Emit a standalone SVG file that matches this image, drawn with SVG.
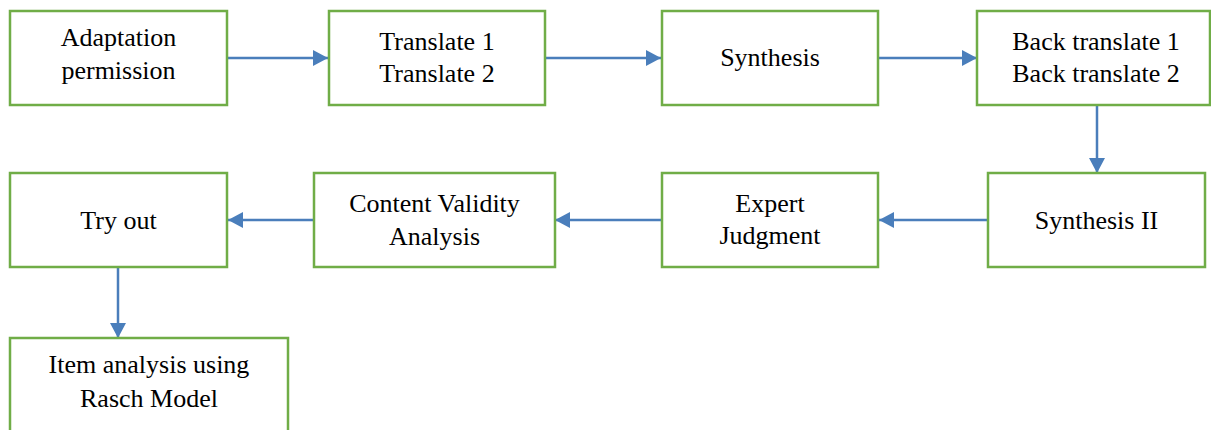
<svg xmlns="http://www.w3.org/2000/svg" width="1211" height="430" viewBox="0 0 1211 430">
<style>
.box{fill:#fff;stroke:#70AD47;stroke-width:2.5}
.t{font-family:"Liberation Serif","Times New Roman",serif;font-size:26px;fill:#000;text-anchor:middle}
.c{stroke:#4A7EBB;stroke-width:2.5;fill:none;marker-end:url(#ah)}
</style>
<defs>
<marker id="ah" markerUnits="userSpaceOnUse" markerWidth="16" markerHeight="16" refX="15" refY="8" orient="auto">
<path d="M0,0 L15,8 L0,16 z" fill="#4A7EBB"/>
</marker>
</defs>
<rect width="1211" height="430" fill="#fff"/>
<g id="connectors">
<line class="c" x1="227" y1="58" x2="328" y2="58"/>
<line class="c" x1="545" y1="58" x2="661" y2="58"/>
<line class="c" x1="878" y1="58" x2="977" y2="58"/>
<line class="c" x1="1097" y1="105" x2="1097" y2="173"/>
<line class="c" x1="988" y1="220" x2="879" y2="220"/>
<line class="c" x1="662" y1="220" x2="555" y2="220"/>
<line class="c" x1="313" y1="220" x2="228" y2="220"/>
<line class="c" x1="118" y1="267" x2="118" y2="338"/>
</g>
<g id="n1"><rect class="box" x="10" y="11" width="217" height="94"/><text class="t" x="118.5" y="46">Adaptation</text><text class="t" x="118.5" y="79">permission</text></g>
<g id="n2"><rect class="box" x="329" y="11" width="216" height="94"/><text class="t" x="437" y="50">Translate 1</text><text class="t" x="437" y="82">Translate 2</text></g>
<g id="n3"><rect class="box" x="662" y="11" width="216" height="94"/><text class="t" x="770" y="66">Synthesis</text></g>
<g id="n4"><rect class="box" x="977" y="11" width="233" height="94"/><text class="t" x="1096" y="50">Back translate 1</text><text class="t" x="1096" y="82">Back translate 2</text></g>
<g id="n5"><rect class="box" x="10" y="173" width="217" height="94"/><text class="t" x="118.5" y="229">Try out</text></g>
<g id="n6"><rect class="box" x="314" y="173" width="241" height="94"/><text class="t" x="434.5" y="212">Content Validity</text><text class="t" x="434.5" y="245">Analysis</text></g>
<g id="n7"><rect class="box" x="662" y="173" width="216" height="94"/><text class="t" x="770" y="212">Expert</text><text class="t" x="770" y="244">Judgment</text></g>
<g id="n8"><rect class="box" x="988" y="173" width="217" height="94"/><text class="t" x="1096.5" y="229">Synthesis II</text></g>
<g id="n9"><rect class="box" x="10" y="338" width="278" height="110"/><text class="t" x="149" y="373">Item analysis using</text><text class="t" x="149" y="407">Rasch Model</text></g>
</svg>
